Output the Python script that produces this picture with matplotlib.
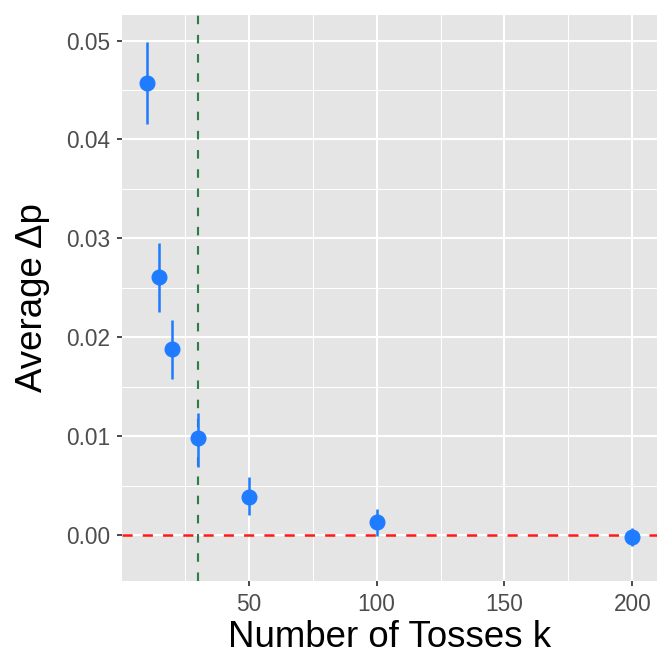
import matplotlib.pyplot as plt
import numpy as np
from matplotlib.ticker import FixedLocator, FormatStrFormatter

# data
tosses = [10, 15, 20, 30, 50, 100, 200]
avg_dp = [0.0457, 0.0261, 0.0188, 0.0098, 0.0039, 0.0013, -0.0002]
dp_low = [0.0416, 0.0226, 0.0158, 0.0069, 0.0020, -0.0001, -0.0011]
dp_high = [0.0498, 0.0295, 0.0217, 0.0123, 0.0059, 0.0026, 0.0007]
cutoff_k = 30

plt.rcParams['font.family'] = ['Liberation Sans', 'DejaVu Sans']

fig = plt.figure(figsize=(7, 7), dpi=96)
ax = fig.add_axes([0.182, 0.136, 0.795, 0.842])
ax.set_facecolor('#e5e5e5')
for s in ax.spines.values():
    s.set_visible(False)

ax.set_xlim(0.5, 209.5)
ax.set_ylim(-0.0046, 0.0526)

ax.xaxis.set_major_locator(FixedLocator([50, 100, 150, 200]))
ax.xaxis.set_minor_locator(FixedLocator([25, 75, 125, 175]))
ax.yaxis.set_major_locator(FixedLocator(np.arange(0, 0.051, 0.01)))
ax.yaxis.set_minor_locator(FixedLocator(np.arange(0.005, 0.051, 0.01)))
ax.yaxis.set_major_formatter(FormatStrFormatter('%.2f'))

ax.grid(which='major', color='white', linewidth=1.6)
ax.grid(which='minor', color='white', linewidth=0.8)
ax.set_axisbelow(True)
ax.tick_params(which='major', length=4, width=1.3, color='#333333',
               labelsize=17, labelcolor='#4d4d4d')
ax.tick_params(axis='x', pad=5)
ax.tick_params(axis='y', pad=5)
ax.tick_params(which='minor', length=0)

ax.axhline(0, color='#ff1a1a', linewidth=1.9, dashes=(4, 4), zorder=2)
ax.axvline(cutoff_k, color='#2e7d46', linewidth=1.6, dashes=(4, 5), zorder=2)

ax.vlines(tosses, dp_low, dp_high, color='#1f7bff', linewidth=1.9, zorder=3)
ax.plot(tosses, avg_dp, 'o', color='#1f7bff', markersize=11, zorder=4)

ax.set_xlabel('Number of Tosses k', fontsize=27.5, labelpad=3)
ax.set_ylabel('Average \u0394p', fontsize=27.5, labelpad=12)

fig.savefig('out.png', dpi=96)
